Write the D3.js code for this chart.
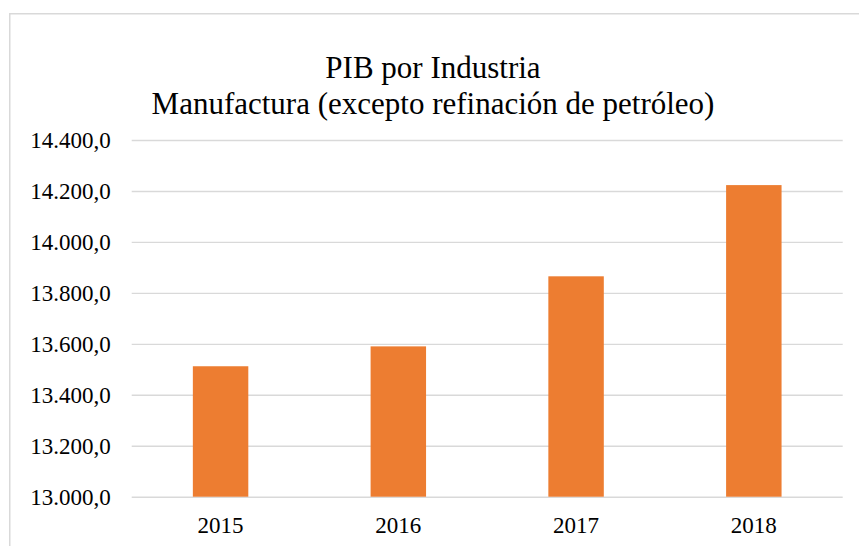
<!DOCTYPE html>
<html>
<head>
<meta charset="utf-8">
<script src="https://cdn.jsdelivr.net/npm/d3@7"></script>
<style>
  html, body { margin: 0; padding: 0; background: #fff; }
  svg { display: block; }
  svg text { font-family: "Liberation Serif", "Times New Roman", serif !important; fill: #000; }
</style>
</head>
<body>
<div id="chart"></div>
<script>
const categories = ["2015", "2016", "2017", "2018"];
const values = [13512, 13590, 13865, 14223];
const yTicks = [13000, 13200, 13400, 13600, 13800, 14000, 14200, 14400];
const titleLines = ["PIB por Industria", "Manufactura (excepto refinación de petróleo)"];

const W = 859, H = 546;
const serif = "'Liberation Serif', 'Times New Roman', serif";
const svg = d3.select("#chart").append("svg").attr("width", W).attr("height", H);

// outer chart border (cropped on right/bottom)
svg.append("rect")
  .attr("x", 9.75).attr("y", 13.75)
  .attr("width", W + 20).attr("height", H + 20)
  .attr("fill", "#fff").attr("stroke", "#d9d9d9").attr("stroke-width", 1.5);

const plot = { left: 131.7, right: 842.7, top: 140, bottom: 496.7 };

const x = d3.scaleBand().domain(categories).range([plot.left, plot.right]).paddingInner(0.688).paddingOuter(0.344);
const y = d3.scaleLinear().domain([13000, 14400]).range([plot.bottom, plot.top]);

// gridlines + y labels
const yAxis = d3.axisLeft(y).tickValues(yTicks)
  .tickSize(-(plot.right - plot.left)).tickPadding(21)
  .tickFormat(d => d3.format(",.1f")(d).replace(/,/g, "#").replace(".", ",").replace(/#/g, "."));
const gy = svg.append("g").attr("transform", `translate(${plot.left},0)`).call(yAxis)
  .attr("font-family", null).attr("font-size", null);
gy.select(".domain").remove();
gy.selectAll(".tick line").attr("stroke", "#d9d9d9").attr("stroke-width", 1.4);
gy.selectAll(".tick text").style("font-size", "23px").style("font-family", serif).attr("fill", "#000");

// bars
svg.append("g").selectAll("rect").data(values).join("rect")
  .attr("x", (d, i) => x(categories[i]))
  .attr("y", d => y(d))
  .attr("width", x.bandwidth())
  .attr("height", d => y(13000) - y(d))
  .attr("fill", "#ED7D31");

// x labels
const xAxis = d3.axisBottom(x).tickSize(0).tickPadding(20);
const gx = svg.append("g").attr("transform", `translate(0,${plot.bottom})`).call(xAxis)
  .attr("font-family", null).attr("font-size", null);
gx.select(".domain").remove();
gx.selectAll(".tick text").style("font-size", "23px").style("font-family", serif).attr("fill", "#000");

// title
svg.append("g").selectAll("text").data(titleLines).join("text")
  .attr("x", 433)
  .attr("y", (d, i) => 78 + i * 36)
  .attr("text-anchor", "middle")
  .style("font-size", "31px")
  .style("font-family", serif)
  .text(d => d);
</script>
</body>
</html>
